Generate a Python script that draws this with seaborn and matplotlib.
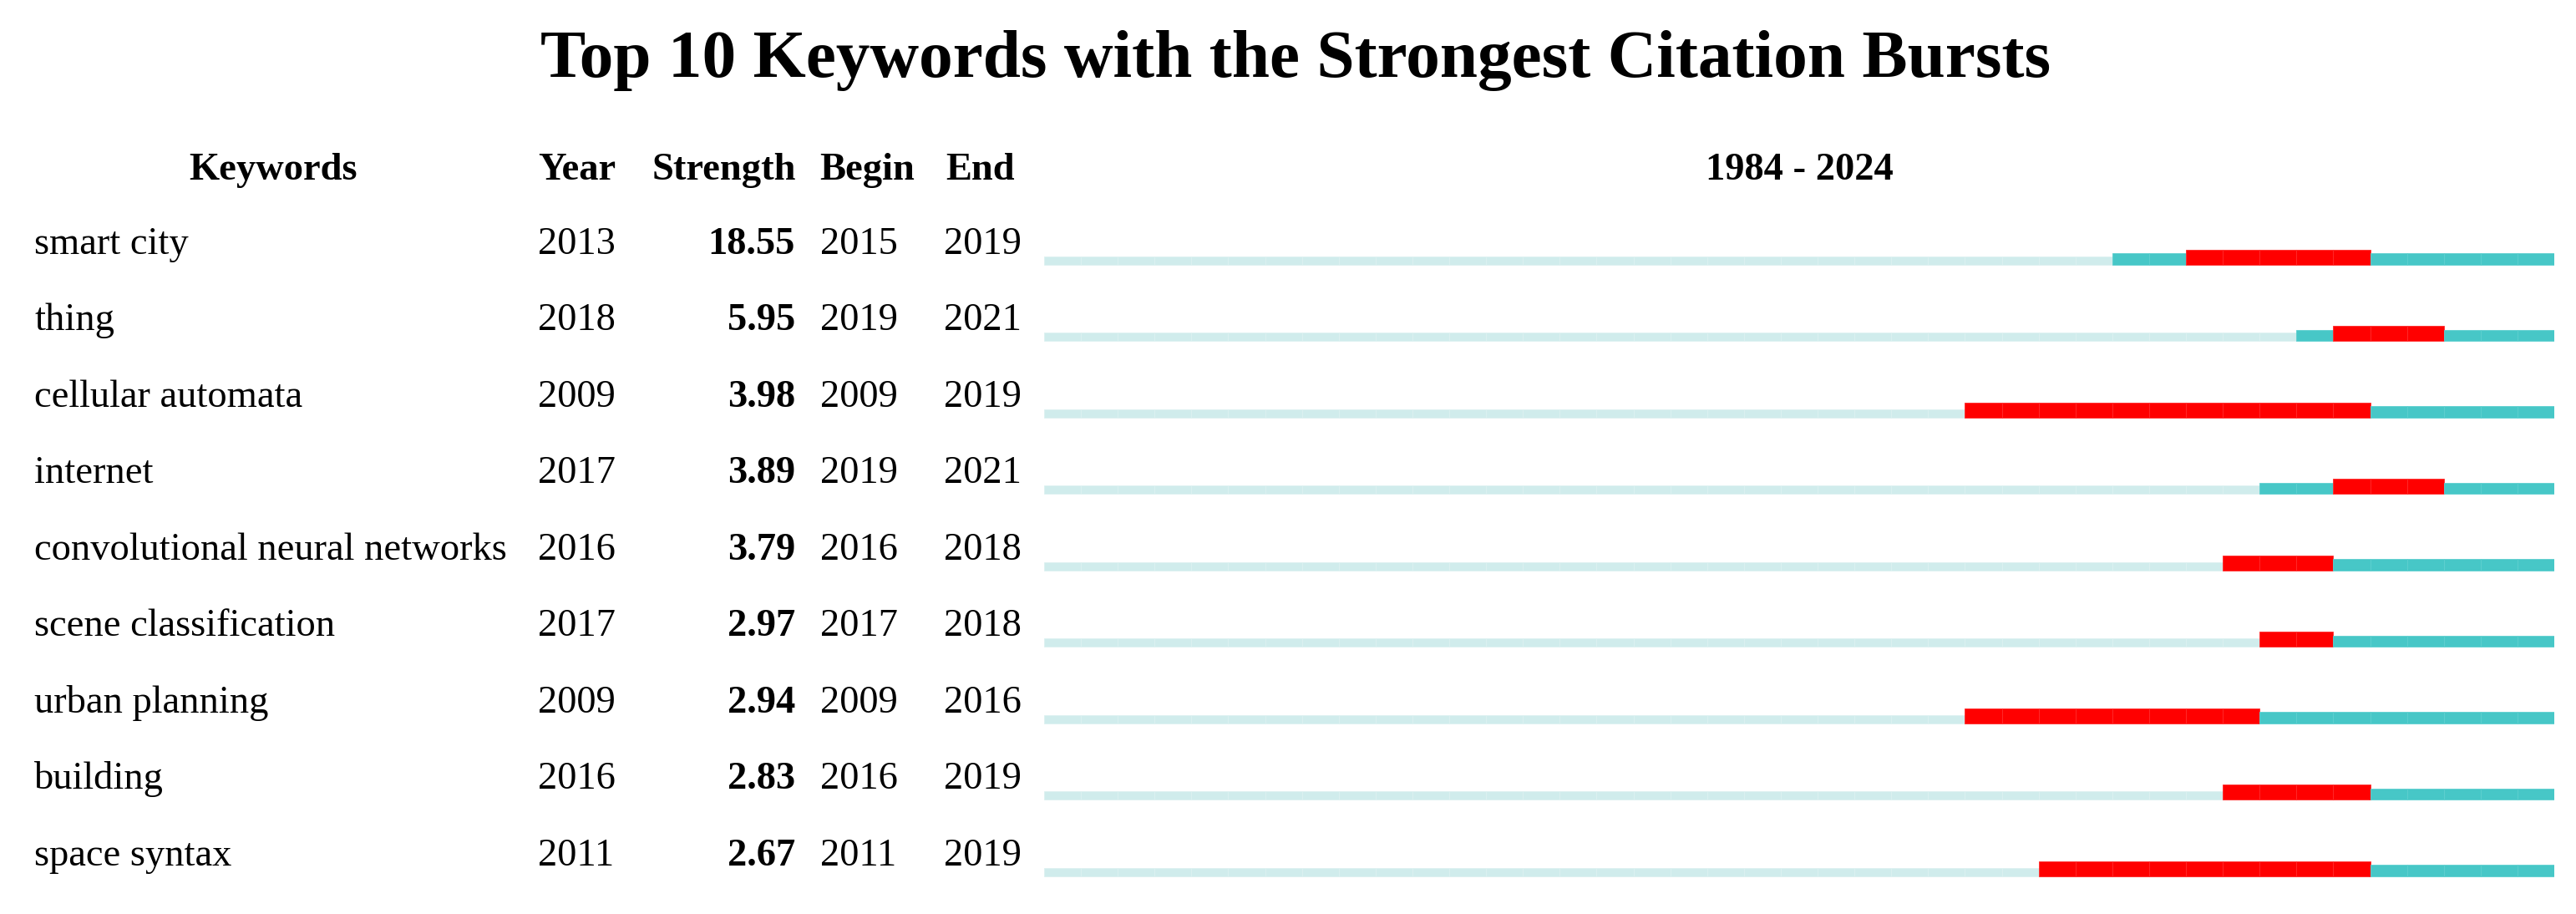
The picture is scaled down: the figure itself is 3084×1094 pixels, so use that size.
import matplotlib
matplotlib.use("Agg")
import matplotlib.pyplot as plt
import matplotlib.transforms as mtrans
import seaborn as sns

keywords = ["smart city", "thing", "cellular automata", "internet",
            "convolutional neural networks", "scene classification",
            "urban planning", "building", "space syntax"]
years = [2013, 2018, 2009, 2017, 2016, 2017, 2009, 2016, 2011]
strengths = [18.55, 5.95, 3.98, 3.89, 3.79, 2.97, 2.94, 2.83, 2.67]
begins = [2015, 2019, 2009, 2019, 2016, 2017, 2009, 2016, 2011]
ends = [2019, 2021, 2019, 2021, 2018, 2018, 2016, 2019, 2019]
first_year, last_year = 1984, 2024

sns.set_theme(style="white")
plt.rcParams["font.family"] = ["Liberation Serif", "DejaVu Serif"]
plt.rcParams["text.color"] = "black"

# (face, cell edge, height in row units)
light = ("#D0ECEC", "#DDF1F1", 0.11)
dark = ("#47C7C7", "#5DCFCF", 0.148)
red = ("#FF0000", "#FF2A2A", 0.197)

fig = plt.figure(figsize=(30.84, 10.94), dpi=100)
ax = fig.add_axes([1250 / 3084, 0, 1808 / 3084, 1])
ax.set_xlim(first_year, last_year + 1)
ax.set_ylim(8.496, -3.461)
ax.axis("off")

for i in range(len(keywords)):
    for yr in range(first_year, last_year + 1):
        if begins[i] <= yr <= ends[i]:
            fc, ec, h = red
        elif yr >= years[i]:
            fc, ec, h = dark
        else:
            fc, ec, h = light
        ax.barh(i - h, 1, left=yr, height=h, align="edge", color=fc,
                edgecolor=ec, linewidth=0.6)

tr = mtrans.blended_transform_factory(fig.transFigure, ax.transData)
fs = 33.5
hy = -1.11
ax.text(0.106, hy, "Keywords", transform=tr, ha="center", va="baseline", fontsize=fs, fontweight="bold")
ax.text(0.2088, hy, "Year", transform=tr, ha="left", va="baseline", fontsize=fs, fontweight="bold")
ax.text(0.3090, hy, "Strength", transform=tr, ha="right", va="baseline", fontsize=fs, fontweight="bold")
ax.text(0.3181, hy, "Begin", transform=tr, ha="left", va="baseline", fontsize=fs, fontweight="bold")
ax.text(0.3670, hy, "End", transform=tr, ha="left", va="baseline", fontsize=fs, fontweight="bold")
ax.text((first_year + last_year + 1) / 2, hy, f"{first_year} - {last_year}", ha="center", va="baseline",
        fontsize=fs, fontweight="bold")

for i, kw in enumerate(keywords):
    ty = i - 0.14
    ax.text(0.0133, ty, kw, transform=tr, ha="left", va="baseline", fontsize=fs)
    ax.text(0.2088, ty, str(years[i]), transform=tr, ha="left", va="baseline", fontsize=fs)
    ax.text(0.3087, ty, f"{strengths[i]:.2f}", transform=tr, ha="right", va="baseline",
            fontsize=fs, fontweight="bold")
    ax.text(0.3184, ty, str(begins[i]), transform=tr, ha="left", va="baseline", fontsize=fs)
    ax.text(0.3664, ty, str(ends[i]), transform=tr, ha="left", va="baseline", fontsize=fs)

fig.text(0.503, 1 - 92 / 1094, "Top 10 Keywords with the Strongest Citation Bursts",
         ha="center", va="baseline", fontsize=58.5, fontweight="bold")

fig.savefig("out.png", dpi=100, facecolor="white")
